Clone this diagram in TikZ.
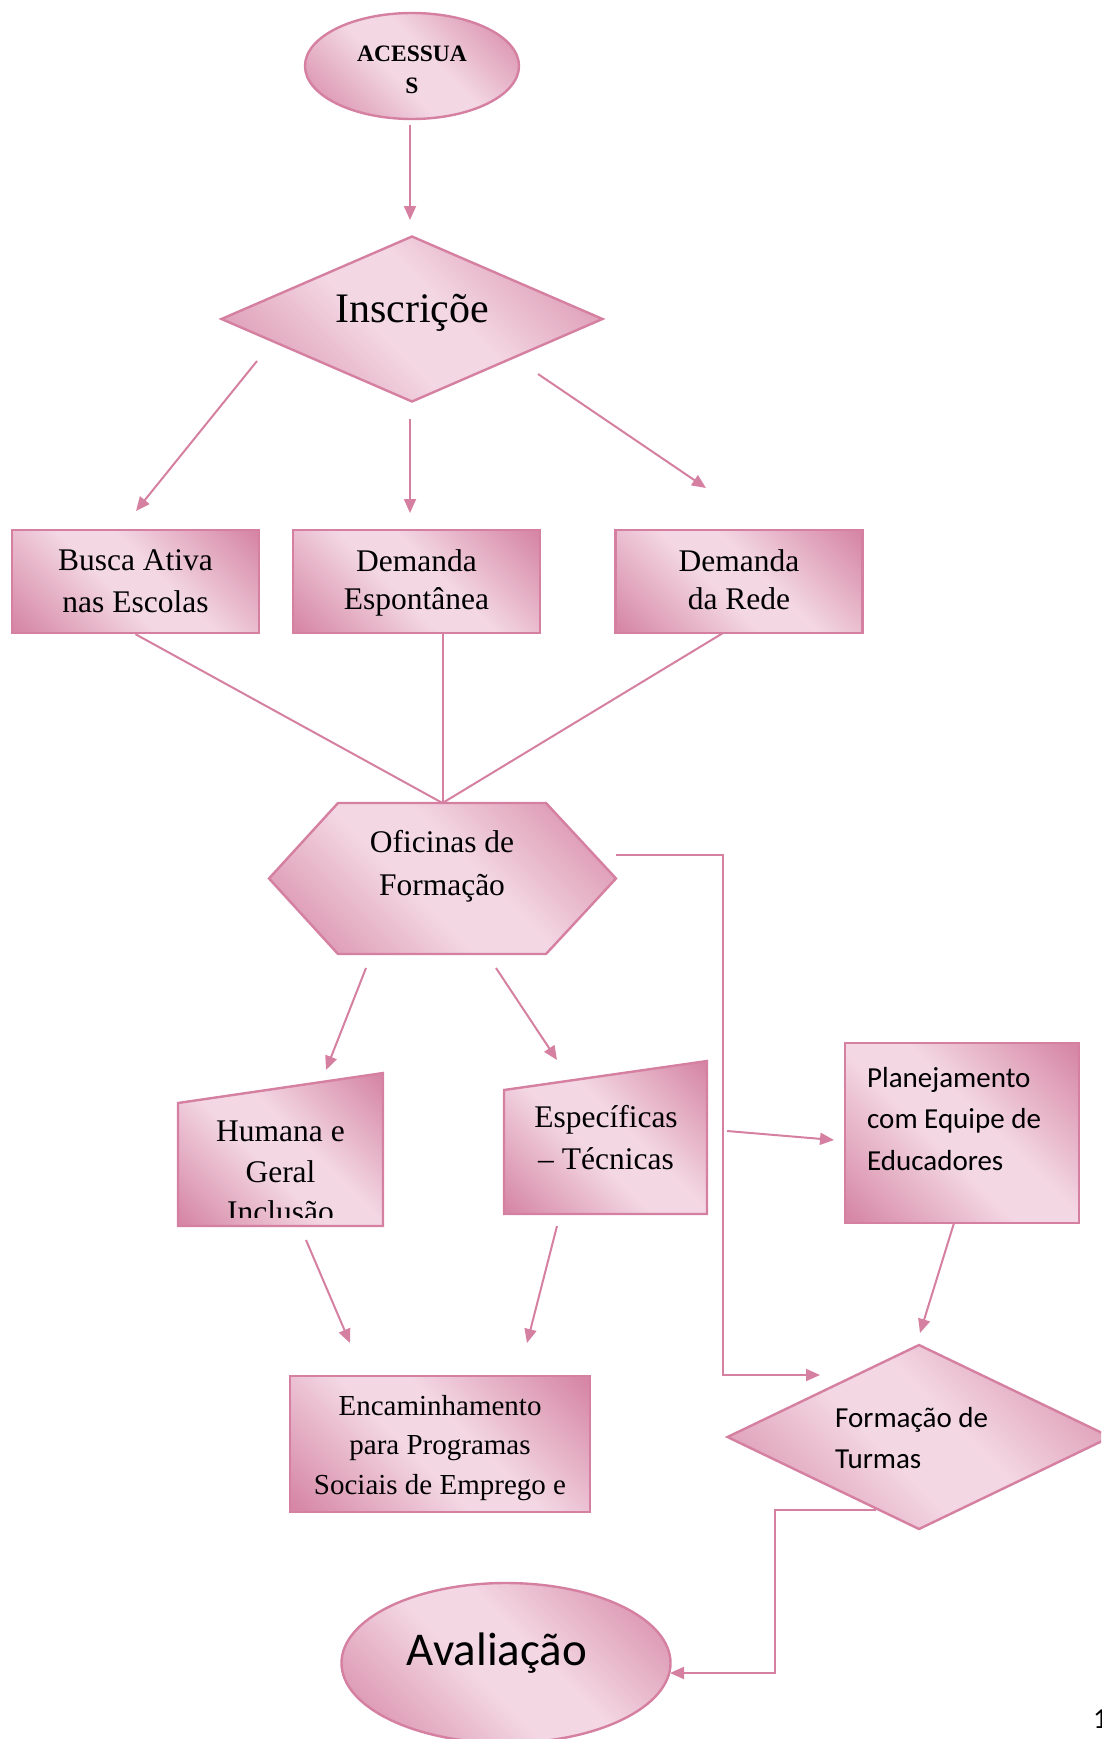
\documentclass[tikz,border=0pt]{standalone}
\usepackage{fontspec}
\setmainfont{Liberation Serif}
\newfontfamily\calfont{Carlito}
\usetikzlibrary{shapes.geometric,arrows.meta,calc}
\definecolor{pline}{RGB}{213,128,160}
\definecolor{pdark}{RGB}{214,135,165}
\definecolor{plight}{RGB}{243,215,226}
\pgfdeclarehorizontalshading{pinkgrad}{100bp}{color(0bp)=(pdark); color(16bp)=(pdark); color(44bp)=(plight); color(56bp)=(plight); color(84bp)=(pdark); color(100bp)=(pdark)}
\begin{document}
\begin{tikzpicture}[x=1pt,y=-1pt,
  shp/.style={shade, shading=pinkgrad, shading angle=45, draw=pline, line width=2.4pt},
  conn/.style={draw=pline, line width=2pt},
  arr/.style={conn, -{Triangle[length=14pt,width=12pt]}},
  serifbig/.style={font=\fontsize{31.5}{42}\selectfont, align=center},
  boxrect/.style={shp, rectangle, inner sep=0, minimum width=247pt, minimum height=103pt},
  blank/.style={inner sep=0, outer sep=0}]
\clip (0,0) rectangle (1101,1739);

% nodes
\node[shp, ellipse, minimum width=214pt, minimum height=106pt, inner sep=0] (acc) at (412,66) {};
\node[font=\bfseries\fontsize{23.5}{32}\selectfont, align=center, inner sep=0] (acct) at (412,70) {ACESSUA\\S};
\node[shp, diamond, aspect=2.3, minimum width=382pt, minimum height=166pt, inner sep=0] (ins) at (412,319) {};
\node[inner sep=0, font=\fontsize{42}{48}\selectfont] (inst) at (412,313) {Inscriçõe};

\node[boxrect, serifbig] (busca) at (135.5,581.5) {Busca Ativa\\nas Escolas};
\node[boxrect] (esp) at (416.5,581.5) {};
\node[font=\fontsize{31.5}{38}\selectfont, align=center] (espt0) at (416.5,582.5) {Demanda\\Espontânea};
\node[boxrect] (rede) at (739,581.5) {};
\node[font=\fontsize{31.5}{38}\selectfont, align=center] (redet) at (739,579.5) {Demanda\\da Rede};

% hexagon
\node[blank, minimum width=347pt, minimum height=151pt] (ofi) at (442.5,878.5) {};
\path[shp] (ofi.west) -- ($(ofi.north west)+(69,0)$) -- ($(ofi.north east)+(-70,0)$) -- (ofi.east)
   -- ($(ofi.south east)+(-70,0)$) -- ($(ofi.south west)+(69,0)$) -- cycle;
\node[font=\fontsize{31.5}{43}\selectfont, align=center] (ofit) at (442,866) {Oficinas de\\Formação};

% Humana (manual input)
\node[blank, minimum width=205pt, minimum height=153pt] (hum) at (280.5,1149.5) {};
\path[shp] (hum.south west) -- (hum.south east) -- (hum.north east) -- ($(hum.north west)+(0,30)$) -- cycle;
\begin{scope}
\clip (180,1075) rectangle (381,1217);
\node[font=\fontsize{31.5}{40.5}\selectfont, align=center] (humt) at (280.5,1172) {Humana e\\Geral\\Inclusão};
\end{scope}

% Especificas (manual input)
\node[blank, minimum width=203pt, minimum height=153pt] (espb) at (605.5,1137.5) {};
\path[shp] (espb.south west) -- (espb.south east) -- (espb.north east) -- ($(espb.north west)+(0,29)$) -- cycle;
\node[font=\fontsize{31.5}{42}\selectfont, align=center] (espbt) at (606,1138) {Específicas\\– Técnicas};

% Planejamento
\node[shp, rectangle, inner sep=0, minimum width=234pt, minimum height=180pt] (plan) at (962,1133) {};
\node[anchor=west, inner sep=0, align=left, font=\calfont\fontsize{29}{41.5}\selectfont] (plant) at (867,1119)
  {Planejamento\\com Equipe de\\Educadores};

% Encaminhamento
\node[shp, rectangle, inner sep=0, minimum width=300pt, minimum height=136pt] (enc) at (440,1444) {};
\node[font=\fontsize{29}{39.5}\selectfont, align=center, inner sep=0] (enct) at (440,1448) {Encaminhamento\\para Programas\\Sociais de Emprego e};

% Formacao de Turmas
\node[shp, diamond, aspect=2.1, minimum width=384pt, minimum height=185pt, inner sep=0] (form) at (919,1437) {};
\node[anchor=west, inner sep=0, align=left, font=\calfont\fontsize{29}{41}\selectfont] (formt) at (835,1438)
  {Formação de\\Turmas};

% Avaliacao
\node[shp, ellipse, minimum width=329pt, minimum height=160pt, inner sep=0] (ava) at (506,1663) {};
\node[inner sep=0, font=\calfont\fontsize{47}{50}\selectfont] (avat) at (497,1653) {Avaliação};

% page number
\node[anchor=west, inner sep=0, font=\calfont\fontsize{29}{30}\selectfont] (pg) at (1093,1719) {1};

% connector ends
\coordinate (c1s) at (410,125);  \coordinate (c1e) at (410,220);
\coordinate (c2s) at (257,361);  \coordinate (c2e) at (136,511);
\coordinate (c3s) at (410,419);  \coordinate (c3e) at (410,513);
\coordinate (c4s) at (538,374);  \coordinate (c4e) at (706,488);
\coordinate (c7s) at (723,633);
\coordinate (c8s) at (616,855);  \coordinate (c8e) at (820,1375);
\coordinate (c9s) at (727,1131); \coordinate (c9e) at (834,1140);
\coordinate (c10s) at (366,968); \coordinate (c10e) at (326,1070);
\coordinate (c11s) at (496,968); \coordinate (c11e) at (557,1060);
\coordinate (c12s) at (306,1240); \coordinate (c12e) at (350,1343);
\coordinate (c13s) at (557,1226); \coordinate (c13e) at (527,1343);
\coordinate (c14s) at (954,1223); \coordinate (c14e) at (920,1333);
\coordinate (c15s) at (876,1510); \coordinate (c15e) at (670,1673);

% connectors
\draw[arr] (c1s) -- (c1e);
\draw[arr] (c2s) -- (c2e);
\draw[arr] (c3s) -- (c3e);
\draw[arr] (c4s) -- (c4e);
\draw[conn] (busca.south) -- (ofi.north);
\draw[conn] (ofi.north |- esp.south) -- (ofi.north);
\draw[conn] (c7s) -- (ofi.north);
\draw[arr] (c8s) -- (723,855) -- (723,1375) -- (c8e);
\draw[arr] (c9s) -- (c9e);
\draw[arr] (c10s) -- (c10e);
\draw[arr] (c11s) -- (c11e);
\draw[arr] (c12s) -- (c12e);
\draw[arr] (c13s) -- (c13e);
\draw[arr] (c14s) -- (c14e);
\draw[arr] (c15s) -- (775,1510) -- (775,1673) -- (c15e);
\end{tikzpicture}
\end{document}
